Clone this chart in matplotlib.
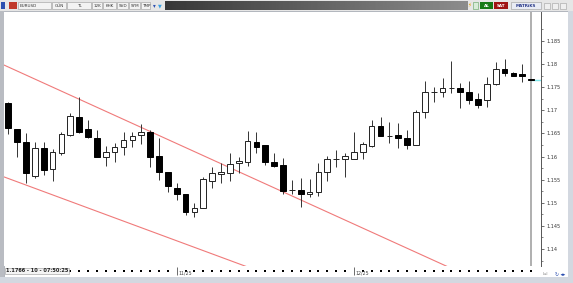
import numpy as np
import matplotlib
matplotlib.use("Agg")
import matplotlib.pyplot as plt
from matplotlib.patches import Rectangle

W, H = 573, 283

# EURUSD daily candles
opens = [1.1716, 1.1660, 1.1631, 1.1558, 1.1619, 1.1573, 1.1608, 1.1647, 1.1686, 1.1659,
         1.1641, 1.1600, 1.1609, 1.1620, 1.1636, 1.1647, 1.1652, 1.1602, 1.1567, 1.1531,
         1.1519, 1.1481, 1.1488, 1.1548, 1.1562, 1.1565, 1.1585, 1.1589, 1.1632, 1.1625,
         1.1589, 1.1582, 1.1528, 1.1528, 1.1519, 1.1524, 1.1566, 1.1594, 1.1595, 1.1595,
         1.1610, 1.1623, 1.1666, 1.1644, 1.1647, 1.1639, 1.1626, 1.1696, 1.1740, 1.1739,
         1.1749, 1.1748, 1.1740, 1.1724, 1.1722, 1.1756, 1.1789, 1.1780, 1.1779, 1.1767]
highs = [1.1718, 1.1660, 1.1651, 1.1631, 1.1631, 1.1616, 1.1652, 1.1695, 1.1728, 1.1678,
         1.1657, 1.1623, 1.1629, 1.1652, 1.1654, 1.1670, 1.1657, 1.1639, 1.1567, 1.1542,
         1.1519, 1.1500, 1.1555, 1.1578, 1.1585, 1.1607, 1.1600, 1.1656, 1.1654, 1.1625,
         1.1608, 1.1596, 1.1549, 1.1553, 1.1551, 1.1585, 1.1601, 1.1614, 1.1608, 1.1654,
         1.1631, 1.1679, 1.1685, 1.1675, 1.1673, 1.1657, 1.1701, 1.1763, 1.1751, 1.1769,
         1.1807, 1.1758, 1.1763, 1.1738, 1.1773, 1.1804, 1.1810, 1.1783, 1.1800, 1.1767]
lows = [1.1649, 1.1600, 1.1543, 1.1554, 1.1559, 1.1546, 1.1603, 1.1645, 1.1650, 1.1639,
        1.1599, 1.1580, 1.1588, 1.1603, 1.1620, 1.1627, 1.1578, 1.1549, 1.1524, 1.1506,
        1.1474, 1.1470, 1.1488, 1.1531, 1.1542, 1.1548, 1.1564, 1.1580, 1.1607, 1.1582,
        1.1577, 1.1519, 1.1519, 1.1491, 1.1512, 1.1515, 1.1548, 1.1577, 1.1556, 1.1595,
        1.1594, 1.1621, 1.1644, 1.1629, 1.1618, 1.1616, 1.1626, 1.1684, 1.1719, 1.1729,
        1.1737, 1.1704, 1.1713, 1.1704, 1.1708, 1.1755, 1.1774, 1.1774, 1.1762, 1.1766]
closes = [1.1662, 1.1631, 1.1565, 1.1618, 1.1571, 1.1610, 1.1649, 1.1688, 1.1652, 1.1643,
          1.1600, 1.1610, 1.1620, 1.1636, 1.1645, 1.1652, 1.1600, 1.1566, 1.1537, 1.1520,
          1.1481, 1.1489, 1.1551, 1.1565, 1.1566, 1.1584, 1.1591, 1.1634, 1.1621, 1.1588,
          1.1580, 1.1526, 1.1528, 1.1520, 1.1524, 1.1566, 1.1594, 1.1594, 1.1601, 1.1610,
          1.1627, 1.1666, 1.1644, 1.1644, 1.1639, 1.1626, 1.1696, 1.1740, 1.1740, 1.1749,
          1.1749, 1.1740, 1.1722, 1.1711, 1.1756, 1.1789, 1.1780, 1.1775, 1.1774, 1.1766]

price_ticks = [1.14, 1.145, 1.15, 1.155, 1.16, 1.165, 1.17, 1.175, 1.18, 1.185]
date_ticks = [19, 39]
date_labels = ["11/25", "12/25"]
last_price = 1.1766
status_text = "1.1766 - 10 - 07:50:25"

# trend channel: (bar index, price) anchors
upper_x, upper_y = [-0.5, 50], [1.1798, 1.1358]
lower_x, lower_y = [-0.5, 27.5], [1.1556, 1.13575]

toolbar_left = ["EURUSD", "GÜN", "TL", "12K", "KHK", "SVD", "SYM", "TMP"]


def box(x0, y0, x1, y1):
    # pixel box -> figure fraction
    return [x0 / W, 1 - y1 / H, (x1 - x0) / W, (y1 - y0) / H]


fig = plt.figure(figsize=(W / 100, H / 100), dpi=100, facecolor="#d3d8e0")

# white chart window behind everything
bg = fig.add_axes(box(4, 11, 568, 277))
bg.axis("off")
bg.add_patch(Rectangle((0, 0), 1, 1, fc="white", ec="#a9adb5", lw=0.6, transform=bg.transAxes))

# # # main price panel # # #
ax = fig.add_axes(box(4, 12, 541, 266))
ax.set_facecolor("white")
n = len(opens)
idx = np.arange(n)
o = np.array(opens)
c = np.array(closes)

ax.vlines(idx, lows, highs, color="#333333", lw=0.7, zorder=2)
up = c >= o
bottoms = np.minimum(o, c)
heights = np.abs(c - o)
ax.bar(idx[up], heights[up], bottom=bottoms[up], width=0.64,
       facecolor="white", edgecolor="#222222", lw=0.7, zorder=3)
ax.bar(idx[~up], heights[~up], bottom=bottoms[~up], width=0.64,
       facecolor="black", edgecolor="black", lw=0.7, zorder=3)

ax.plot(upper_x, upper_y, color="#f07a7a", lw=0.8, zorder=1)
ax.plot(lower_x, lower_y, color="#f07a7a", lw=0.8, zorder=1)

# current bar marker and last price
ax.axvline(n - 1, color="#9a9a9a", lw=1.1, zorder=1.5)
ax.hlines(last_price, n - 1, 61, color="#7fe8ec", lw=1.0, zorder=1.6)

ax.set_xlim(-0.485, 60.11)
ax.set_ylim(1.13632, 1.19126)
for s in ["left", "top", "bottom"]:
    ax.spines[s].set_visible(False)
ax.spines["right"].set_color("#555555")
ax.spines["right"].set_linewidth(0.7)
ax.set_xticks([])
ax.yaxis.tick_right()
ax.set_yticks(price_ticks)
ax.set_yticklabels(["%g" % p for p in price_ticks])
ax.set_yticks(np.arange(1.1375, 1.19, 0.0025), minor=True)
ax.tick_params(axis="y", which="major", length=2.5, width=0.5, pad=1.5,
               labelsize=3.6, colors="#333333")
ax.tick_params(axis="y", which="minor", length=1.5, width=0.5, colors="#555555")

# # # bottom date strip # # #
ax2 = fig.add_axes(box(4, 266, 541, 277))
ax2.set_facecolor("white")
ax2.set_xlim(-0.485, 60.11)
ax2.set_ylim(0, 1)
ax2.axis("off")
dot_idx = [i for i in range(7, n) if i not in date_ticks]
ax2.scatter(dot_idx, [0.55] * len(dot_idx), s=1.2, marker="s", c="black", lw=0)
for i, lab in zip(date_ticks, date_labels):
    ax2.vlines(i, 0.15, 0.9, color="#555555", lw=0.6)
    ax2.text(i + 0.15, 0.35, lab, fontsize=3.4, color="#444444", va="center")
ax2.text(-0.3, 0.55, status_text, fontsize=3.6, fontweight="bold", color="#222222",
         va="center", bbox=dict(boxstyle="square,pad=0.15", fc="#f4f4f4", ec="#999999", lw=0.4))

# # # window chrome # # #
tb = fig.add_axes(box(0, 0, W, 11))
tb.set_xlim(0, W)
tb.set_ylim(11, 0)
tb.axis("off")
tb.add_patch(Rectangle((0, 0), W, 11, fc="#e6e6e6", ec="none"))
grad = np.linspace(0.22, 0.55, 256).reshape(1, -1)
tb.imshow(grad, cmap="gray", vmin=0, vmax=1, aspect="auto", extent=(165, 468, 10, 1), zorder=1)
tb.add_patch(Rectangle((1, 2), 4, 7, fc="#2b4fb0", ec="none"))
tb.add_patch(Rectangle((9, 2), 8, 7, fc="#c0392b", ec="none"))
edges = [18, 52, 67, 92, 103, 117, 129, 141, 151]
for k, lab in enumerate(toolbar_left):
    x0, x1 = edges[k], edges[k + 1]
    tb.add_patch(Rectangle((x0, 2), x1 - x0 - 1, 7, fc="#f3f3f3", ec="#9a9a9a", lw=0.4))
    ha = "left" if k == 0 else "center"
    xt = x0 + 2 if k == 0 else (x0 + x1) / 2
    tb.text(xt, 5.8, lab, fontsize=3.0, ha=ha, va="center", color="#333333")
tb.text(154, 5.5, "▾", fontsize=4, ha="center", va="center", color="#2b4fb0")
tb.text(160, 5.5, "▼", fontsize=3.5, ha="center", va="center", color="#3aa0e0")
tb.text(469, 5.5, "⚡", fontsize=4, ha="center", va="center", color="#e0a000")
tb.add_patch(Rectangle((473, 2), 5, 7, fc="#d8ecd8", ec="#60a060", lw=0.4))
tb.add_patch(Rectangle((480, 2), 13, 7, fc="#177a17", ec="none"))
tb.text(486.5, 5.8, "AL", fontsize=3.0, ha="center", va="center", color="white", fontweight="bold")
tb.add_patch(Rectangle((494, 2), 14, 7, fc="#a01414", ec="none"))
tb.text(501, 5.8, "SAT", fontsize=3.0, ha="center", va="center", color="white", fontweight="bold")
tb.add_patch(Rectangle((511, 2), 30, 7, fc="#e9ecf4", ec="#9a9a9a", lw=0.4))
tb.text(526, 5.8, "MATRiKS", fontsize=3.0, ha="center", va="center", color="#2a3a8a", fontweight="bold")
for xb in [544, 552, 560]:
    tb.add_patch(Rectangle((xb, 2.5), 6, 6, fc="#efefef", ec="#a0a0a0", lw=0.4))

# left grey bar
lb = fig.add_axes(box(0, 11, 4, 277))
lb.axis("off")
lb.add_patch(Rectangle((0, 0), 1, 1, fc="#b9bcc2", ec="none", transform=lb.transAxes))

# bottom-right corner icons
br = fig.add_axes(box(541, 266, 573, 283))
br.set_xlim(541, 573)
br.set_ylim(283, 266)
br.axis("off")
br.text(543, 274, "Lsl", fontsize=3, color="#888888", va="center")
br.text(560, 274, "↻ ◂▸", fontsize=3.4, color="#2b4fb0", va="center", ha="center")

plt.savefig("out.png", dpi=100, facecolor=fig.get_facecolor())
